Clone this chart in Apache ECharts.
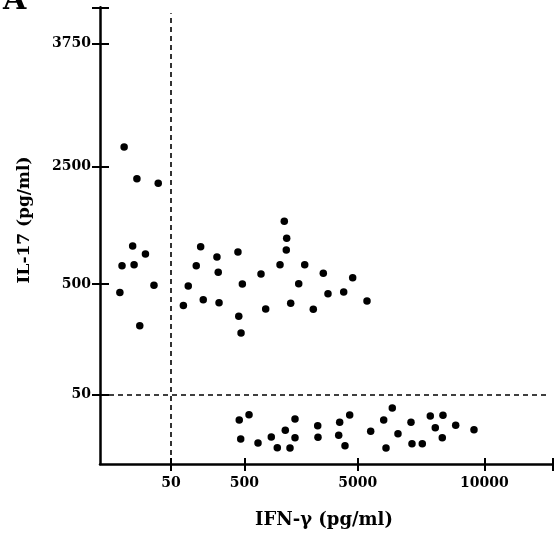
<!DOCTYPE html>
<html>
<head>
<meta charset="utf-8">
<script src="https://cdn.jsdelivr.net/npm/echarts@6/dist/echarts.min.js"></script>
<style>
html,body{margin:0;padding:0;background:#fff;}
#chart{width:558px;height:535px;}
</style>
</head>
<body>
<div id="chart"></div>
<script>
// Broken (segmented) axis scales: value breakpoints and their relative axis positions
const xBreakVals = [0, 50, 500, 5000, 10000, 15000];
const xBreakPos  = [0, 71, 144.3, 257.7, 384.3, 452.3];
const yBreakVals = [0, 50, 500, 2500, 3750, 4120];
const yBreakPos  = [0, 69.7, 180, 297.3, 420.3, 456.7];

const xTickValues = [50, 500, 5000, 10000];
const xTickLabels = ['50', '500', '5000', '10000'];
const yTickValues = [50, 500, 2500, 3750];
const yTickLabels = ['50', '500', '2500', '3750'];

const refX = 50;   // IFN-γ cut-off
const refY = 50;   // IL-17 cut-off

// High IL-17 group
const ifnHigh  = [17, 26, 41, 23, 32, 15.5, 24, 38, 14, 28, 126, 156, 205, 232, 248, 332, 340, 345, 461, 488, 466, 480, 1163, 1349, 1917, 2087, 2182, 2166, 2341, 2659, 2897, 3238, 3635, 3821, 4444, 4801, 5367];
const il17High = [2700, 2295, 2217, 1148, 1011, 812, 829, 495, 465, 330, 412, 492, 812, 1136, 436, 960, 700, 424, 1046, 500, 368, 300, 671, 398, 829, 1569, 1279, 1080, 421, 505, 829, 397, 682, 460, 467, 607, 431];
// Low IL-17 group
const ifnLow  = [469, 687, 478, 1044, 1571, 1809, 2127, 2512, 2512, 2313, 3413, 3424, 4285, 4246, 4496, 4682, 5513, 6027, 6366, 6591, 6118, 7105, 7144, 7551, 7867, 8368, 8064, 8340, 8870, 9593];
const il17Low = [31.6, 35.4, 17.9, 15.1, 19.4, 11.7, 24.2, 32.3, 18.9, 11.5, 27.5, 19.2, 29.9, 20.6, 13.1, 35.2, 23.5, 31.6, 40.2, 21.7, 11.5, 29.9, 14.6, 14.6, 34.4, 34.9, 26.0, 18.9, 27.8, 24.6];

function toPos(v, vals, pos) {
  for (let i = 1; i < vals.length; i++) {
    if (v <= vals[i] || i === vals.length - 1) {
      return pos[i - 1] + (v - vals[i - 1]) / (vals[i] - vals[i - 1]) * (pos[i] - pos[i - 1]);
    }
  }
}
const fx = v => toPos(v, xBreakVals, xBreakPos);
const fy = v => toPos(v, yBreakVals, yBreakPos);

const xTickPos = xTickValues.map(fx);
const yTickPos = yTickValues.map(fy);
const xMax = xBreakPos[xBreakPos.length - 1];
const yMax = yBreakPos[yBreakPos.length - 1];

function labelFor(val, posArr, labels) {
  for (let i = 0; i < posArr.length; i++) {
    if (Math.abs(posArr[i] - val) < 0.01) return labels[i];
  }
  return '';
}

const FONT = 'DejaVu Serif';
const INK = '#000';

const points = ifnHigh.map((v, i) => [fx(v), fy(il17High[i])])
  .concat(ifnLow.map((v, i) => [fx(v), fy(il17Low[i])]));

const chart = echarts.init(document.getElementById('chart'), null, {renderer: 'canvas'});
chart.setOption({
  animation: false,
  backgroundColor: '#fff',
  grid: {left: 100, right: 5.7, top: 7.3, bottom: 71, containLabel: false, outerBoundsMode: 'none'},
  xAxis: [{
    type: 'value', position: 'bottom', min: 0, max: xMax,
    splitLine: {show: false},
    axisLine: {show: true, onZero: false, lineStyle: {color: '#000', width: 2.5}},
    axisTick: {show: true, inside: false, length: 7, customValues: xTickPos.concat([xMax]), lineStyle: {color: '#000', width: 2}},
    axisLabel: {show: true, customValues: xTickPos, margin: 12, fontFamily: FONT, fontWeight: 'bold', fontSize: 14, color: INK,
      formatter: v => labelFor(v, xTickPos, xTickLabels)}
  }, {
    type: 'value', position: 'bottom', min: 0, max: xMax,
    splitLine: {show: false},
    axisLine: {show: false, onZero: false},
    axisTick: {show: true, inside: true, length: 6, customValues: xTickPos.concat([xMax]), lineStyle: {color: '#000', width: 2}},
    axisLabel: {show: false}
  }],
  yAxis: [{
    type: 'value', position: 'left', min: 0, max: yMax,
    splitLine: {show: false},
    axisLine: {show: true, onZero: false, lineStyle: {color: '#000', width: 2.5}},
    axisTick: {show: true, inside: false, length: 8, customValues: yTickPos.concat([yMax]), lineStyle: {color: '#000', width: 2}},
    axisLabel: {show: true, customValues: yTickPos, margin: 9, fontFamily: FONT, fontWeight: 'bold', fontSize: 14, color: INK,
      formatter: v => labelFor(v, yTickPos, yTickLabels)}
  }, {
    type: 'value', position: 'left', min: 0, max: yMax,
    splitLine: {show: false},
    axisLine: {show: false, onZero: false},
    axisTick: {show: true, inside: true, length: 9, customValues: yTickPos.concat([yMax]), lineStyle: {color: '#000', width: 2}},
    axisLabel: {show: false}
  }],
  series: [{
    type: 'scatter',
    xAxisIndex: 0, yAxisIndex: 0,
    symbol: 'circle', symbolSize: 7.5,
    itemStyle: {color: '#000', opacity: 1},
    data: points,
    markLine: {
      silent: true, symbol: 'none', label: {show: false},
      lineStyle: {color: '#000', width: 1.6, type: [5, 4], opacity: 1},
      data: [
        [{coord: [fx(refX), fy(0)]}, {coord: [fx(refX), fy(4060)]}],
        [{coord: [fx(0), fy(refY)]}, {coord: [fx(14650), fy(refY)]}]
      ]
    }
  }],
  graphic: [
    {type: 'text', x: 324, y: 520, style: {text: 'IFN-γ (pg/ml)', font: 'bold 18px "DejaVu Serif"', fill: INK, textAlign: 'center', textVerticalAlign: 'middle'}},
    {type: 'text', x: 25, y: 220, rotation: Math.PI / 2, style: {text: 'IL-17 (pg/ml)', font: 'bold 17px "DejaVu Serif"', fill: INK, textAlign: 'center', textVerticalAlign: 'middle'}},
    {type: 'text', x: 3, y: 16, style: {text: 'A', font: 'bold 30px "DejaVu Serif"', fill: INK, textAlign: 'left', textVerticalAlign: 'bottom'}}
  ]
});
</script>
</body>
</html>
